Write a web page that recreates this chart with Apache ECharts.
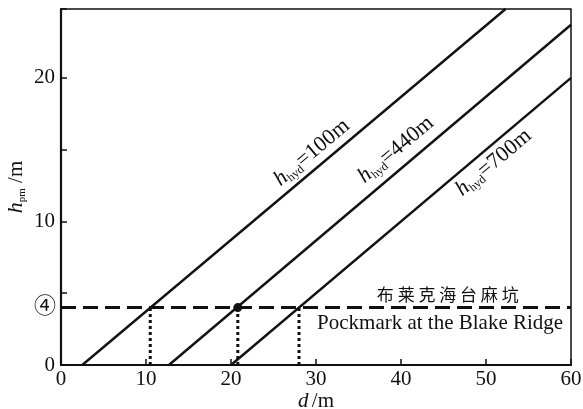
<!DOCTYPE html>
<html>
<head>
<meta charset="utf-8">
<script src="https://cdn.jsdelivr.net/npm/echarts@6/dist/echarts.min.js"></script>
<style>
  html, body { margin: 0; padding: 0; background: #fff; }
  #chart { width: 583px; height: 409px; }
</style>
</head>
<body>
<div id="chart"></div>
<script>
// 三条 h_hyd 曲线（端点读自原图）
const line100 = [[2.5, 0], [52.3, 24.8]];
const line440 = [[12.7, 0], [60, 23.7]];
const line700 = [[20, 0], [60, 20]];
const lineNames = ["100m", "440m", "700m"];
// 麻坑高度及对应的 d 值
const pockH = 4;
const dropX = [10.5, 20.8, 28.0];
const yTickLabels = ["0", "10", "20"];

const serif = "Liberation Serif, Noto Sans CJK SC, serif";
const black = "#111";

let myChart = echarts.init(document.getElementById("chart"));

function hydLabel(name) {
  return "{i|h}{s|hyd}{n|=" + name + "}";
}
const hydRich = {
  i: { fontFamily: serif, fontStyle: "italic", fontSize: 22, color: black, lineHeight: 24 },
  s: { fontFamily: serif, fontSize: 12, color: black, lineHeight: 10, verticalAlign: "bottom" },
  n: { fontFamily: serif, fontSize: 22, color: black, lineHeight: 24 }
};

function mainLine(data) {
  return {
    type: "line",
    data: data,
    symbol: "none",
    silent: true,
    lineStyle: { color: black, width: 2.4 }
  };
}

let series = [
  mainLine(line100),
  mainLine(line440),
  mainLine(line700),
  {
    // 虚线 ④ 高度
    type: "line",
    data: [],
    markLine: {
      silent: true,
      symbol: "none",
      lineStyle: { color: black, width: 2.8, type: [15, 7] },
      label: {
        show: true,
        position: "start",
        formatter: "④",
        fontFamily: serif,
        fontSize: 22,
        color: black,
        distance: 5
      },
      data: [{ yAxis: pockH }]
    }
  }
];

// 点线
dropX.forEach(function(x) {
  series.push({
    type: "line",
    data: [[x, 0], [x, pockH]],
    symbol: "none",
    silent: true,
    lineStyle: { color: black, width: 3, type: [3, 3] }
  });
});

// 交点
series.push({
  type: "scatter",
  data: [[dropX[1], pockH]],
  symbolSize: 9,
  itemStyle: { color: black, opacity: 1 },
  silent: true
});

// 文字标注
series.push({
  type: "scatter",
  symbolSize: 0,
  silent: true,
  itemStyle: { opacity: 1 },
  data: [
    { value: [29.5, 14.8], label: { formatter: hydLabel(lineNames[0]) } },
    { value: [39.4, 15.0], label: { formatter: hydLabel(lineNames[1]) } },
    { value: [50.9, 14.1], label: { formatter: hydLabel(lineNames[2]) } }
  ],
  label: {
    show: true,
    position: "inside",
    rotate: 40,
    rich: hydRich
  }
});
series.push({
  type: "scatter",
  symbolSize: 0,
  silent: true,
  itemStyle: { opacity: 1 },
  data: [
    { value: [45.5, 4.9], label: { formatter: "布 莱 克 海 台 麻 坑", fontFamily: "Noto Sans CJK SC", fontSize: 17 } },
    { value: [44.6, 2.9], label: { formatter: "Pockmark at the Blake Ridge", fontFamily: serif, fontSize: 21 } }
  ],
  label: {
    show: true,
    position: "inside",
    color: black
  }
});

let option = {
  animation: false,
  backgroundColor: "#fff",
  grid: {
    left: 61,
    right: 12,
    top: 9,
    bottom: 44,
    outerBoundsMode: "none",
    containLabel: false,
    show: true,
    borderColor: black,
    borderWidth: 1.5,
    backgroundColor: "transparent"
  },
  xAxis: {
    type: "value",
    min: 0,
    max: 60,
    interval: 10,
    name: "{i|d} {n|/m}",
    nameLocation: "middle",
    nameGap: 26,
    nameMoveOverlap: false,
    nameTextStyle: {
      rich: {
        i: { fontFamily: serif, fontStyle: "italic", fontSize: 21, color: black },
        n: { fontFamily: serif, fontSize: 21, color: black }
      }
    },
    axisLine: { lineStyle: { color: black, width: 2.2 } },
    axisTick: { inside: true, length: 6, lineStyle: { color: black, width: 1.5 } },
    axisLabel: { fontFamily: serif, fontSize: 21, color: black, margin: 4 },
    splitLine: { show: false }
  },
  yAxis: {
    type: "value",
    min: 0,
    max: 24.8,
    interval: 5,
    name: "{i|h}{s|pm}{n| /m}",
    nameLocation: "middle",
    nameRotate: 90,
    nameGap: 33,
    nameMoveOverlap: false,
    nameTextStyle: {
      rich: {
        i: { fontFamily: serif, fontStyle: "italic", fontSize: 22, color: black, lineHeight: 24 },
        s: { fontFamily: serif, fontSize: 11, color: black, lineHeight: 10, verticalAlign: "bottom" },
        n: { fontFamily: serif, fontSize: 21, color: black, lineHeight: 24 }
      }
    },
    axisLine: { lineStyle: { color: black, width: 2.2 } },
    axisTick: { inside: true, length: 6, lineStyle: { color: black, width: 1.5 } },
    axisLabel: {
      fontFamily: serif,
      fontSize: 21,
      color: black,
      margin: 6,
      formatter: function(v) {
        return yTickLabels.indexOf(String(v)) >= 0 ? String(v) : "";
      }
    },
    splitLine: { show: false }
  },
  series: series
};

myChart.setOption(option);
</script>
</body>
</html>
